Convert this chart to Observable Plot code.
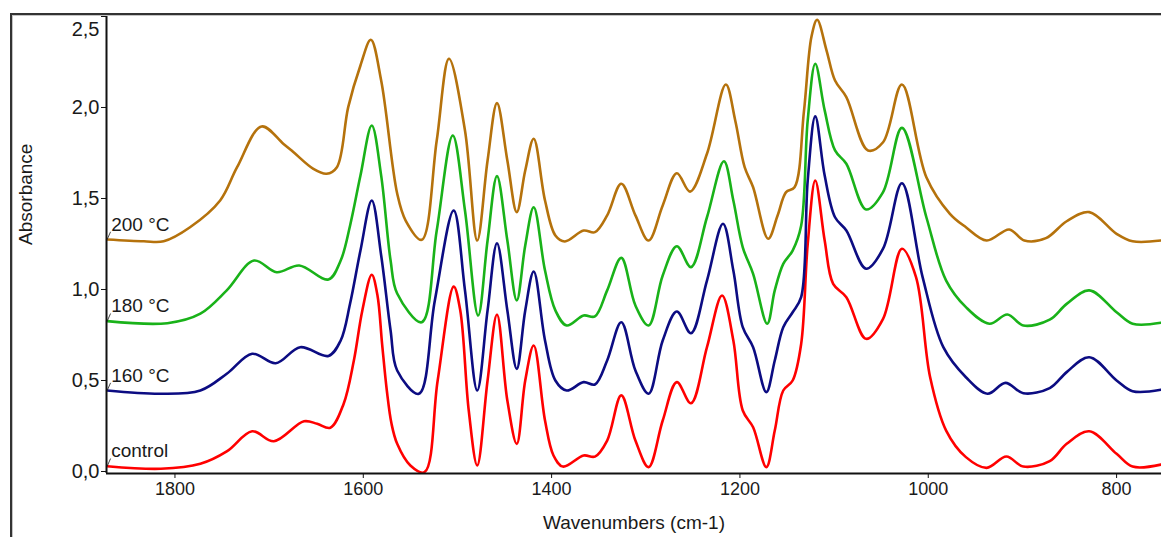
<!DOCTYPE html>
<html>
<head>
<meta charset="utf-8">
<script src="https://cdn.jsdelivr.net/npm/d3@7"></script>
<script src="https://cdn.jsdelivr.net/npm/@observablehq/plot@0.6"></script>
<style>
  html, body { margin: 0; padding: 0; background: #fff; overflow: hidden; }
  #wrap { position: relative; width: 1161px; height: 537px; }
  #frame { position: absolute; left: 10px; top: 13px; width: 1300px; height: 700px;
           border-left: 2px solid #333; border-top: 2px solid #333;
           box-shadow: inset 1px 1px 0 #c4c4c4; pointer-events: none; }
  svg { font-family: "Liberation Sans", Arial, sans-serif; }
</style>
</head>
<body>
<div id="wrap"><div id="chart"></div><div id="frame"></div></div>
<script>
// Wavenumbers (cm-1) and absorbance values
const controlW = [1872,1815,1773,1745,1718,1695,1663,1649,1635,1621,1610,1601,1591,1585,1580,1575,1570,1564,1550,1535,1521,1504,1497,1488,1479,1468,1458,1447,1437,1428,1419,1407,1398,1388,1366,1354,1341,1326,1311,1297,1282,1267,1252,1235,1219,1207,1197,1186,1172,1163,1154,1144,1135,1128,1120,1110,1101,1087,1066,1048,1028,1013,998,981,960,938,917,899,871,853,829,800,783,753];
const controlA = [0.029,0.015,0.042,0.11,0.221,0.166,0.276,0.262,0.24,0.37,0.61,0.885,1.081,0.97,0.70,0.445,0.262,0.152,0.033,-0.004,0.5,1.016,0.885,0.335,0.033,0.5,0.863,0.39,0.152,0.5,0.692,0.28,0.088,0.027,0.088,0.082,0.17,0.418,0.17,0.024,0.28,0.491,0.375,0.683,0.967,0.72,0.335,0.243,0.024,0.225,0.445,0.5,0.70,1.25,1.599,1.269,1.031,0.958,0.729,0.839,1.224,1.068,0.518,0.225,0.079,0.02,0.082,0.027,0.057,0.152,0.221,0.097,0.027,0.038];

const c160W = [1872,1815,1773,1745,1718,1693,1667,1637,1624,1614,1603,1591,1581,1571,1564,1541,1524,1504,1492,1479,1468,1458,1447,1437,1428,1419,1407,1396,1384,1366,1354,1341,1326,1311,1297,1282,1267,1252,1235,1218,1207,1197,1186,1172,1163,1154,1144,1135,1128,1120,1110,1099,1087,1066,1048,1028,1006,984,960,937,918,899,871,853,829,800,783,753];
const c160A = [0.445,0.427,0.445,0.537,0.647,0.595,0.683,0.635,0.72,0.923,1.214,1.489,1.187,0.775,0.555,0.427,0.94,1.434,0.995,0.445,0.885,1.254,0.885,0.564,0.885,1.099,0.72,0.5,0.445,0.491,0.478,0.61,0.82,0.555,0.427,0.72,0.879,0.76,1.049,1.361,1.104,0.793,0.683,0.436,0.61,0.793,0.875,0.958,1.6,1.951,1.626,1.397,1.324,1.114,1.224,1.584,1.068,0.683,0.518,0.427,0.487,0.43,0.458,0.546,0.628,0.5,0.441,0.449];

const c180W = [1872,1808,1773,1745,1716,1692,1668,1637,1624,1614,1603,1591,1581,1571,1564,1538,1522,1505,1492,1478,1468,1458,1447,1437,1428,1419,1407,1396,1384,1366,1354,1341,1326,1311,1297,1282,1267,1252,1235,1217,1207,1197,1186,1171,1163,1154,1144,1135,1128,1120,1110,1099,1087,1066,1048,1028,1002,981,960,935,916,899,871,853,829,800,783,753];
const c180A = [0.826,0.815,0.867,0.995,1.159,1.095,1.132,1.055,1.159,1.352,1.626,1.901,1.626,1.159,0.978,0.82,1.324,1.846,1.434,0.857,1.269,1.623,1.269,0.94,1.242,1.452,1.104,0.885,0.802,0.857,0.852,0.995,1.174,0.912,0.802,1.077,1.238,1.123,1.397,1.705,1.489,1.232,1.086,0.812,0.995,1.141,1.214,1.35,1.93,2.24,1.984,1.764,1.691,1.44,1.535,1.888,1.397,1.049,0.903,0.812,0.863,0.802,0.834,0.921,0.995,0.875,0.812,0.817];

const c200W = [1872,1833,1812,1784,1752,1734,1708,1685,1674,1653,1639,1628,1616,1603,1592,1581,1564,1555,1538,1522,1509,1492,1479,1468,1458,1447,1437,1428,1419,1407,1396,1386,1366,1354,1341,1326,1311,1297,1282,1267,1253,1235,1215,1205,1195,1186,1170,1160,1151,1142,1132,1124,1118,1108,1099,1087,1064,1048,1028,1002,977,960,938,914,898,875,853,829,800,783,753];
const c200A = [1.275,1.265,1.265,1.342,1.489,1.672,1.896,1.801,1.754,1.663,1.636,1.672,2.002,2.231,2.372,2.148,1.527,1.379,1.273,1.819,2.268,1.874,1.269,1.709,2.024,1.709,1.425,1.654,1.828,1.489,1.297,1.264,1.324,1.315,1.407,1.581,1.407,1.269,1.462,1.639,1.538,1.746,2.126,1.929,1.672,1.562,1.279,1.407,1.535,1.562,1.98,2.39,2.482,2.313,2.148,2.057,1.764,1.809,2.126,1.617,1.416,1.342,1.269,1.33,1.269,1.282,1.375,1.425,1.306,1.265,1.269];

const seriesNames = ["control", "160 °C", "180 °C", "200 °C"];
const seriesColors = ["#ff0000", "#0c0c82", "#19b219", "#b5720c"];
const seriesW = [controlW, c160W, c180W, c200W];
const seriesA = [controlA, c160A, c180A, c200A];

const xTicks = [1800, 1600, 1400, 1200, 1000, 800];
const yTicks = [0, 0.5, 1.0, 1.5, 2.0];
const yTickLabels = ["0,0", "0,5", "1,0", "1,5", "2,0"];
const yTopTick = [2.5];
const yTopLabel = ["2,5"];
const xDomain = [1872.7, 752.3];
const yDomain = [-0.011, 2.5];

const series = seriesNames.map((name, i) => ({
  name, color: seriesColors[i],
  rows: seriesW[i].map((w, j) => ({w, a: seriesA[i][j]}))
}));

const font = "Liberation Sans, Arial, sans-serif";

const marks = [
  ...series.map(s => Plot.line(s.rows, {x: "w", y: "a", stroke: s.color, strokeWidth: 2.6, curve: "catmull-rom"})),
  Plot.link(series, {
    x1: d => d.rows[0].w, y1: d => d.rows[0].a,
    x2: d => d.rows[0].w - 3.6, y2: d => d.rows[0].a + 0.042,
    stroke: "#333", strokeWidth: 0.9
  }),
  Plot.text(series, {
    x: d => d.rows[0].w, y: d => d.rows[0].a, text: d => d.name,
    textAnchor: "start", dx: 4, dy: -15, fontSize: 19, fill: "#1a1a1a"
  }),
  Plot.ruleX([xDomain[0]], {stroke: "#111", strokeWidth: 2}),
  Plot.ruleY([yDomain[0]], {stroke: "#111", strokeWidth: 2}),
  Plot.axisX(xTicks, {tickSize: 5, tickPadding: 4, fontSize: 18, tickFormat: d => String(d), stroke: "#111", fill: "#1a1a1a", label: null}),
  Plot.axisY(yTicks, {tickSize: 5, tickPadding: 2, fontSize: 20, tickFormat: (d) => yTickLabels[yTicks.indexOf(d)], stroke: "#111", fill: "#1a1a1a", label: null}),
  Plot.axisY(yTopTick, {tickSize: 5, tickPadding: 2, fontSize: 20, tickFormat: () => "", stroke: "#111", label: null}),
  Plot.text(yTopLabel, {frameAnchor: "top-left", text: d => d, textAnchor: "end", lineAnchor: "middle", dx: -7, dy: 13, fontSize: 20, fill: "#1a1a1a"}),
  Plot.text(["Absorbance"], {frameAnchor: "left", text: d => d, rotate: -90, dx: -81, fontSize: 19, fill: "#1a1a1a"}),
  Plot.text(["Wavenumbers (cm-1)"], {frameAnchor: "bottom", text: d => d, lineAnchor: "middle", dy: 49, fontSize: 19, fill: "#1a1a1a"})
];

const chart = Plot.plot({
  width: 1161, height: 537,
  marginLeft: 106, marginRight: 0, marginTop: 16, marginBottom: 64,
  style: {fontFamily: font, background: "transparent"},
  x: {domain: xDomain, axis: null},
  y: {domain: yDomain, axis: null},
  marks
});
document.getElementById("chart").appendChild(chart);
</script>
</body>
</html>
